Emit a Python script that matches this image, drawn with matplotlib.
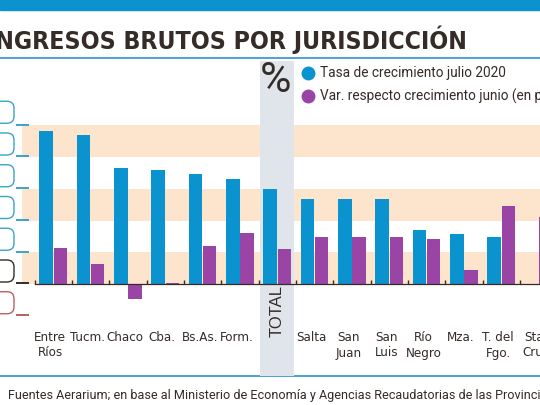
import numpy as np
import matplotlib
matplotlib.use("Agg")
import matplotlib.pyplot as plt
from matplotlib.patches import FancyBboxPatch, Rectangle
from matplotlib.transforms import IdentityTransform

# data (value units: one band = 10)
provincias = ["Entre\nRíos", "Tucm.", "Chaco", "Cba.", "Bs.As.", "Form.", "TOTAL",
              "Salta", "San\nJuan", "San\nLuis", "Río\nNegro", "Mza.", "T. del\nFgo.", "Sta.\nCruz"]
tasa_julio = [48.3, 46.9, 36.4, 35.9, 34.5, 33.0, 29.9,
              26.7, 26.7, 26.7, 16.9, 15.6, 14.8, -0.3]
var_junio = [11.3, 6.3, -4.8, 0.4, 12.1, 16.0, 11.0,
             14.9, 14.9, 14.9, 14.2, 4.3, 24.7, 21.2]
ticks_y = [50, 40, 30, 20, 10, 0, -10]

AZUL = "#0b93d0"
VIOLETA = "#9a45a6"
DURAZNO = "#fde4cc"
GRIS = "#dfe5ea"
OSCURO = "#352b27"
COND = dict(family="DejaVu Sans", fontstretch="condensed")
ROBOTO = ["Roboto", "DejaVu Sans"]

W, H = 540, 405
fig = plt.figure(figsize=(W / 100, H / 100), dpi=100)
ax = fig.add_axes([0, 0, 1, 1])
ax.axis("off")

# pixel layout: group i centre at 53.3 + 37.33*i, zero at y=284, 10 units = 31.75 px
x0, dx = 53.3, 37.33
y0, dy = 284, 3.175
ax.set_xlim(-x0 / dx, (W - x0) / dx)
ax.set_ylim(-(H - y0) / dy, y0 / dy)


def fy(py):
    return 1 - py / H


# top blue bar, title and rules
fig.patches.append(Rectangle((0, fy(10)), 1, 10 / H, transform=fig.transFigure,
                             color=AZUL, zorder=0))
fig.text(467 / W, fy(40), "INGRESOS BRUTOS POR JURISDICCIÓN", ha="right", va="center",
         fontsize=17.85, fontweight="bold", color=OSCURO, **COND)
ax.plot([-5, 20], [(y0 - 58) / dy] * 2, color="#3d9dd0", lw=1.3, zorder=1)
ax.plot([-5, 20], [(y0 - 376) / dy] * 2, color="#3d9dd0", lw=1.3, zorder=1)

# bands
for lo in [0, 20, 40]:
    ax.axhspan(lo, lo + 10, xmin=22 / W, xmax=1, color=DURAZNO, lw=0, zorder=0)

# TOTAL highlight
ax.axvspan(5.54, 6.46, ymin=fy(376), ymax=fy(61), color=GRIS, lw=0, zorder=1)

x = np.arange(len(provincias))
ax.bar(x - 0.19, tasa_julio, width=0.36, color=AZUL, zorder=3)
ax.bar(x + 0.19, var_junio, width=0.36, color=VIOLETA, zorder=3)

# zero line and small dividers
ax.plot([-0.5, 14], [0, 0], color=OSCURO, lw=0.9, zorder=4)
ax.plot(x - 0.5, np.zeros(len(x)), ls="none", marker=2, markersize=3,
        color=OSCURO, zorder=4)

# left tick callouts (labels cut off in the original)
for v in ticks_y:
    c = "#3aa3cc" if v > 0 else (OSCURO if v == 0 else "#b9605e")
    yd = ax.transData.transform((0, v))[1]
    fig.patches.append(FancyBboxPatch((-8, yd + 2), 22, 22,
                                      boxstyle="round,pad=0,rounding_size=7",
                                      transform=IdentityTransform(),
                                      fc="none", ec=c, lw=1.0, zorder=5))
    ax.plot([(16 - x0) / dx, (29 - x0) / dx], [v + 0.2, v + 0.2], color=c, lw=1.4,
            zorder=5, solid_capstyle="butt")

# category labels
for i, lab in enumerate(provincias):
    if lab == "TOTAL":
        ax.text(i, (y0 - 311) / dy, lab, rotation=90, ha="center", va="center",
                fontsize=12, color=OSCURO, family=["Liberation Sans", "DejaVu Sans"])
        continue
    ax.text(i - 0.08, (y0 - 331) / dy, lab, ha="center", va="top", fontsize=9.5,
            color=OSCURO, linespacing=1.25, **COND)

# legend
fig.text(276 / W, fy(80), "%", ha="center", va="center", fontsize=31,
         color=OSCURO, family=ROBOTO)
ax.plot([(308 - x0) / dx], [(y0 - 73) / dy], "o", ms=9, color=AZUL, zorder=6)
ax.plot([(308 - x0) / dx], [(y0 - 96) / dy], "o", ms=9, color=VIOLETA, zorder=6)
fig.text(320 / W, fy(73), "Tasa de crecimiento julio 2020", ha="left", va="center",
         fontsize=9.8, color=OSCURO, family=ROBOTO)
fig.text(320 / W, fy(96), "Var. respecto crecimiento junio (en p.p.)", ha="left",
         va="center", fontsize=9.8, color=OSCURO, family=ROBOTO)

# footnote
fig.text(8 / W, fy(395), "Fuentes Aerarium; en base al Ministerio de Economía y Agencias "
         "Recaudatorias de las Provincias", ha="left", va="center", fontsize=9.1,
         color=OSCURO, family=ROBOTO)

fig.savefig("out.png", dpi=100)
